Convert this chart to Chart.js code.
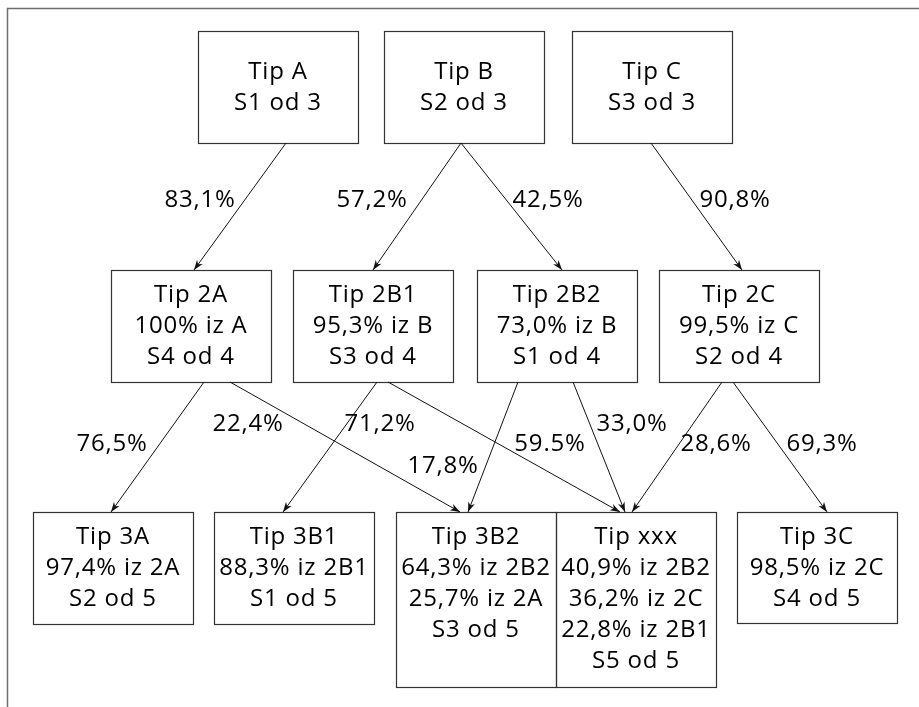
<!DOCTYPE html>
<html lang="sl">
<head>
    <meta charset="UTF-8">
    <title>Tipi</title>
    <style>
        body {
            margin: 0;
            background-color: #fff;
        }

        canvas {
            display: block;
        }
    </style>
</head>
<body>
    <canvas id="flowChart" width="919" height="707"></canvas>

    <script src="https://cdn.jsdelivr.net/npm/chart.js"></script>
    <script>
        // Node texts
        const nodeNames = ['Tip A', 'Tip B', 'Tip C', 'Tip 2A', 'Tip 2B1', 'Tip 2B2', 'Tip 2C',
            'Tip 3A', 'Tip 3B1', 'Tip 3B2', 'Tip xxx', 'Tip 3C'];
        const nodeLines = [
            ['S1 od 3'],
            ['S2 od 3'],
            ['S3 od 3'],
            ['100% iz A', 'S4 od 4'],
            ['95,3% iz B', 'S3 od 4'],
            ['73,0% iz B', 'S1 od 4'],
            ['99,5% iz C', 'S2 od 4'],
            ['97,4% iz 2A', 'S2 od 5'],
            ['88,3% iz 2B1', 'S1 od 5'],
            ['64,3% iz 2B2', '25,7% iz 2A', 'S3 od 5'],
            ['40,9% iz 2B2', '36,2% iz 2C', '22,8% iz 2B1', 'S5 od 5'],
            ['98,5% iz 2C', 'S4 od 5']
        ];

        // Edges (from node index -> to node index) and their shares
        const edgeFrom = [0, 1, 1, 2, 3, 3, 4, 4, 5, 5, 6, 6];
        const edgeTo = [3, 4, 5, 6, 7, 9, 8, 10, 9, 10, 10, 11];
        const edgeLabels = ['83,1%', '57,2%', '42,5%', '90,8%', '76,5%', '22,4%', '71,2%',
            '59.5%', '17,8%', '33,0%', '28,6%', '69,3%'];

        // Layout in chart units (x left, y top, width, height)
        const nodeBoxes = [
            [198, 31, 160, 112], [384, 31, 160, 112], [572, 31, 160, 112],
            [111, 270, 160, 112], [293, 270, 160, 112], [477, 270, 160, 112], [659, 270, 160, 112],
            [33, 512, 160, 112], [214, 512, 160, 112], [396, 512, 160, 175], [556, 512, 160, 175], [737, 512, 160, 111]
        ];
        const firstLineY = [72, 72, 72, 295, 295, 295, 295, 537, 537, 537, 537, 537];
        const lineGap = 31;

        // where each edge leaves its source box and enters its target box (x only)
        const edgeStartX = [286, 461, 461, 651, 204, 230, 377, 388, 518, 573, 722, 733];
        const edgeEndX = [194, 373, 562, 742, 111, 460, 283, 620, 468, 625, 632, 827];
        const labelX = [200, 372, 548, 735, 112, 248, 380, 550, 443, 632, 716, 822];
        const labelY = [200, 200, 200, 200, 444, 424, 424, 444, 466, 424, 444, 444];

        const FONT = '24px "Open Sans", "Noto Sans", sans-serif';

        // Build one line dataset per edge
        const datasets = edgeFrom.map((from, i) => {
            const src = nodeBoxes[from];
            const dst = nodeBoxes[edgeTo[i]];
            return {
                label: edgeLabels[i],
                data: [
                    { x: edgeStartX[i], y: src[1] + src[3] },
                    { x: edgeEndX[i], y: dst[1] }
                ],
                showLine: true,
                borderColor: '#111',
                borderWidth: 1,
                pointRadius: 0
            };
        });

        function setTextStyle(ctx) {
            ctx.fillStyle = '#000';
            ctx.font = FONT;
            ctx.textAlign = 'center';
            ctx.textBaseline = 'middle';
            ctx.letterSpacing = '0.8px';
        }

        const diagramPlugin = {
            id: 'diagram',
            beforeDatasetsDraw(chart) {
                const ctx = chart.ctx;
                const xs = chart.scales.x;
                const ys = chart.scales.y;

                // outer frame (top and left only)
                ctx.save();
                ctx.strokeStyle = '#6e6e6e';
                ctx.lineWidth = 1.5;
                ctx.beginPath();
                ctx.moveTo(xs.getPixelForValue(7.5), ys.getPixelForValue(707));
                ctx.lineTo(xs.getPixelForValue(7.5), ys.getPixelForValue(8.5));
                ctx.lineTo(xs.getPixelForValue(919), ys.getPixelForValue(8.5));
                ctx.stroke();

                // boxes and their texts
                ctx.strokeStyle = '#333';
                ctx.lineWidth = 1.2;
                setTextStyle(ctx);
                nodeBoxes.forEach((b, i) => {
                    const x0 = xs.getPixelForValue(b[0]);
                    const y0 = ys.getPixelForValue(b[1]);
                    const x1 = xs.getPixelForValue(b[0] + b[2]);
                    const y1 = ys.getPixelForValue(b[1] + b[3]);
                    ctx.strokeRect(Math.round(x0) + 0.5, Math.round(y0) + 0.5, Math.round(x1 - x0), Math.round(y1 - y0));
                    const cx = (x0 + x1) / 2;
                    const lines = [nodeNames[i]].concat(nodeLines[i]);
                    lines.forEach((t, k) => {
                        ctx.fillText(t, cx, ys.getPixelForValue(firstLineY[i] + k * lineGap));
                    });
                });
                ctx.restore();
            },
            afterDatasetsDraw(chart) {
                const ctx = chart.ctx;
                const xs = chart.scales.x;
                const ys = chart.scales.y;
                ctx.save();
                ctx.fillStyle = '#111';
                chart.data.datasets.forEach((ds) => {
                    const p0 = ds.data[0];
                    const p1 = ds.data[1];
                    const ax = xs.getPixelForValue(p0.x), ay = ys.getPixelForValue(p0.y);
                    const bx = xs.getPixelForValue(p1.x), by = ys.getPixelForValue(p1.y);
                    const ang = Math.atan2(by - ay, bx - ax);
                    const len = 10, half = 3.5;
                    ctx.beginPath();
                    ctx.moveTo(bx, by);
                    ctx.lineTo(bx - len * Math.cos(ang) + half * Math.sin(ang), by - len * Math.sin(ang) - half * Math.cos(ang));
                    ctx.lineTo(bx - 0.7 * len * Math.cos(ang), by - 0.7 * len * Math.sin(ang));
                    ctx.lineTo(bx - len * Math.cos(ang) - half * Math.sin(ang), by - len * Math.sin(ang) + half * Math.cos(ang));
                    ctx.closePath();
                    ctx.fill();
                });

                // percentage labels
                setTextStyle(ctx);
                edgeLabels.forEach((t, i) => {
                    ctx.fillText(t, xs.getPixelForValue(labelX[i]), ys.getPixelForValue(labelY[i]));
                });
                ctx.restore();
            }
        };

        const ctx = document.getElementById('flowChart').getContext('2d');
        new Chart(ctx, {
            type: 'scatter',
            data: { datasets: datasets },
            options: {
                responsive: false,
                animation: false,
                events: [],
                layout: { padding: 0 },
                plugins: {
                    legend: { display: false },
                    tooltip: { enabled: false }
                },
                scales: {
                    x: { type: 'linear', min: 0, max: 919, display: false },
                    y: { type: 'linear', min: 0, max: 707, reverse: true, display: false }
                }
            },
            plugins: [diagramPlugin]
        });
    </script>
</body>
</html>
